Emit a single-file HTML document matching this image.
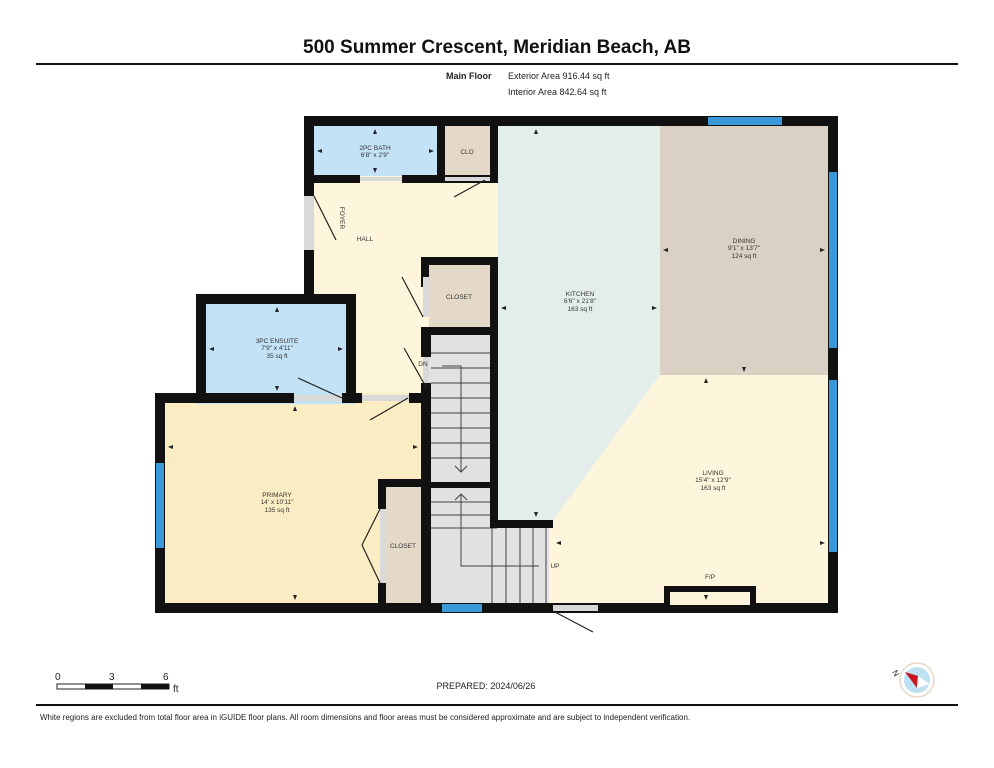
<!DOCTYPE html>
<html><head><meta charset="utf-8"><style>
html,body{margin:0;padding:0;background:#fff;width:994px;height:768px;overflow:hidden}
svg{display:block}
text{font-family:"Liberation Sans",sans-serif}
</style></head><body>
<svg width="994" height="768" viewBox="0 0 994 768" xmlns="http://www.w3.org/2000/svg">
<text x="497" y="53" font-size="19" font-weight="bold" text-anchor="middle" fill="#111">500 Summer Crescent, Meridian Beach, AB</text>
<rect x="36" y="63" width="922" height="2" fill="#111"/>
<text x="446" y="79" font-size="9" font-weight="bold" fill="#222">Main Floor</text>
<text x="508" y="79" font-size="9" fill="#222">Exterior Area 916.44 sq ft</text>
<text x="508" y="95" font-size="9" fill="#222">Interior Area 842.64 sq ft</text>

<rect x="304" y="116" width="534" height="497" fill="#fdf6dc"/>
<rect x="155" y="393" width="275" height="220" fill="#fbedc3"/>
<rect x="196" y="294" width="160" height="110" fill="#c3e2f6"/>
<rect x="314" y="126" width="124" height="50" fill="#c3e2f6"/>
<rect x="445" y="126" width="46" height="50" fill="#e4d9c9"/>
<polygon points="498,126 660,126 660,375 553,520 498,520" fill="#e3eeea"/>
<rect x="660" y="126" width="168" height="249" fill="#dad1c4"/>
<rect x="429" y="265" width="62" height="64" fill="#e4d9c9"/>
<rect x="386" y="487" width="35" height="116" fill="#e4d9c9"/>
<rect x="429" y="335" width="68" height="268" fill="#e1e1e1"/>
<rect x="497" y="528" width="52" height="75" fill="#e1e1e1"/>

<g stroke="#444" stroke-width="1" fill="none">
<line x1="431" y1="353" x2="497" y2="353"/><line x1="431" y1="368" x2="497" y2="368"/>
<line x1="431" y1="383" x2="497" y2="383"/><line x1="431" y1="398" x2="497" y2="398"/>
<line x1="431" y1="413" x2="497" y2="413"/><line x1="431" y1="428" x2="497" y2="428"/>
<line x1="431" y1="443" x2="497" y2="443"/><line x1="431" y1="458" x2="497" y2="458"/>
<line x1="431" y1="502" x2="497" y2="502"/><line x1="431" y1="515" x2="497" y2="515"/>
<line x1="431" y1="528" x2="497" y2="528"/>
<line x1="492" y1="528" x2="492" y2="603"/><line x1="506" y1="528" x2="506" y2="603"/>
<line x1="520" y1="528" x2="520" y2="603"/><line x1="533" y1="528" x2="533" y2="603"/><line x1="546" y1="528" x2="546" y2="603"/>
<polyline points="442,366 461,366 461,472"/><polyline points="455,466 461,472 467,466"/>
<polyline points="539,566 461,566 461,494"/><polyline points="455,500 461,494 467,500"/>
</g>

<g fill="#111">
<rect x="304" y="116" width="534" height="10"/>
<rect x="828" y="116" width="10" height="497"/>
<rect x="155" y="603" width="683" height="10"/>
<rect x="155" y="393" width="10" height="220"/>
<rect x="155" y="393" width="51" height="10"/>
<rect x="196" y="294" width="10" height="109"/>
<rect x="196" y="294" width="160" height="10"/>
<rect x="346" y="294" width="10" height="109"/>
<rect x="304" y="116" width="10" height="178"/>
<rect x="206" y="393" width="88" height="10"/>
<rect x="342" y="393" width="20" height="10"/>
<rect x="409" y="393" width="22" height="10"/>
<rect x="314" y="175" width="46" height="8"/>
<rect x="402" y="175" width="96" height="8"/>
<rect x="437" y="126" width="8" height="57"/>
<rect x="490" y="126" width="8" height="57"/>
<rect x="421" y="257" width="77" height="8"/>
<rect x="421" y="257" width="8" height="30"/>
<rect x="421" y="327" width="77" height="8"/>
<rect x="490" y="257" width="8" height="271"/>
<rect x="421" y="327" width="10" height="30"/>
<rect x="421" y="383" width="10" height="220"/>
<rect x="421" y="482" width="76" height="6"/>
<rect x="378" y="479" width="51" height="8"/>
<rect x="378" y="479" width="8" height="30"/>
<rect x="378" y="583" width="8" height="20"/>
<rect x="490" y="520" width="63" height="8"/>
<rect x="664" y="586" width="92" height="20"/>
</g>
<rect x="670" y="592" width="80" height="13" fill="#fdf6dc"/>
<g fill="#d9d9d9">
<rect x="360" y="177" width="42" height="4"/>
<rect x="304" y="196" width="10" height="54"/>
<rect x="294" y="395" width="48" height="6"/>
<rect x="362" y="395" width="47" height="6"/>
<rect x="423" y="277" width="6" height="40"/>
<rect x="423" y="357" width="6" height="26"/>
<rect x="380" y="509" width="6" height="74"/>
<rect x="445" y="177" width="45" height="4"/>
<rect x="553" y="605" width="45" height="6"/>
</g>
<g fill="#3a9ad9">
<rect x="708" y="117" width="74" height="8"/>
<rect x="829" y="172" width="8" height="176"/>
<rect x="829" y="380" width="8" height="172"/>
<rect x="156" y="463" width="8" height="85"/>
<rect x="442" y="604" width="40" height="8"/>
</g>
<g stroke="#222" stroke-width="1.2" fill="none">
<line x1="314" y1="196" x2="336" y2="240"/>
<line x1="454" y1="197" x2="485" y2="180"/>
<line x1="298" y1="378" x2="342" y2="398"/>
<line x1="408" y1="398" x2="370" y2="420"/>
<line x1="423" y1="317" x2="402" y2="277"/>
<line x1="426" y1="387" x2="404" y2="348"/>
<line x1="380" y1="509" x2="362" y2="545"/><line x1="362" y1="545" x2="380" y2="583"/>
<line x1="553" y1="611" x2="593" y2="632"/>
</g>
<g font-size="6.5" fill="#333" text-anchor="middle">
<text x="375" y="150">2PC BATH</text><text x="375" y="157">6'8" x 2'9"</text>
<text x="467" y="154">CLO</text>
<text x="365" y="241">HALL</text>
<text x="340" y="218" transform="rotate(90 340 218)">FOYER</text>
<text x="459" y="299">CLOSET</text>
<text x="423" y="366">DN</text>
<text x="277" y="343">3PC ENSUITE</text><text x="277" y="350">7'9" x 4'11"</text><text x="277" y="358">35 sq ft</text>
<text x="580" y="296">KITCHEN</text><text x="580" y="303">6'6" x 21'8"</text><text x="580" y="311">163 sq ft</text>
<text x="744" y="243">DINING</text><text x="744" y="250">9'1" x 13'7"</text><text x="744" y="258">124 sq ft</text>
<text x="713" y="475">LIVING</text><text x="713" y="482">15'4" x 12'9"</text><text x="713" y="490">163 sq ft</text>
<text x="277" y="497">PRIMARY</text><text x="277" y="504">14' x 10'11"</text><text x="277" y="512">135 sq ft</text>
<text x="403" y="548">CLOSET</text>
<text x="555" y="568">UP</text>
<text x="710" y="579">F/P</text>
</g>
<g fill="#222">
<path d="M375,129 l-2,5 h4z"/><path d="M375,173 l-2,-5 h4z"/>
<path d="M317,151 l5,-2 v4z"/><path d="M434,151 l-5,-2 v4z"/>
<path d="M277,307 l-2,5 h4z"/><path d="M277,391 l-2,-5 h4z"/>
<path d="M209,349 l5,-2 v4z"/><path d="M343,349 l-5,-2 v4z"/>
<path d="M295,406 l-2,5 h4z"/><path d="M295,600 l-2,-5 h4z"/>
<path d="M168,447 l5,-2 v4z"/><path d="M418,447 l-5,-2 v4z"/>
<path d="M536,129 l-2,5 h4z"/><path d="M536,517 l-2,-5 h4z"/>
<path d="M501,308 l5,-2 v4z"/><path d="M657,308 l-5,-2 v4z"/>
<path d="M706,378 l-2,5 h4z"/><path d="M706,600 l-2,-5 h4z"/>
<path d="M556,543 l5,-2 v4z"/><path d="M825,543 l-5,-2 v4z"/>
<path d="M744,372 l-2,-5 h4z"/><path d="M663,250 l5,-2 v4z"/><path d="M825,250 l-5,-2 v4z"/>
</g>

<g font-size="10" fill="#222">
<text x="55" y="680">0</text><text x="109" y="680">3</text><text x="163" y="680">6</text>
<text x="173" y="692">ft</text>
</g>
<rect x="57" y="684" width="112" height="5" fill="#fff" stroke="#222" stroke-width="1"/>
<rect x="85" y="684" width="28" height="5" fill="#111"/>
<rect x="141" y="684" width="28" height="5" fill="#111"/>
<text x="486" y="689" font-size="9" fill="#222" text-anchor="middle">PREPARED: 2024/06/26</text>
<circle cx="917" cy="680" r="17" fill="#fff" stroke="#e6d7c6" stroke-width="1.5"/>
<circle cx="917" cy="680" r="13" fill="#bde0f3"/>
<polygon points="905,672 918,676 917,688" fill="#c9151e"/>
<polygon points="917,688 918,676 930,684" fill="#fff"/>
<text x="892" y="672" font-size="8" fill="#222" transform="rotate(60 892 672)">N</text>
<rect x="36" y="704" width="922" height="2" fill="#111"/>
<text x="40" y="720" font-size="8" fill="#222">White regions are excluded from total floor area in iGUIDE floor plans. All room dimensions and floor areas must be considered approximate and are subject to independent verification.</text>
</svg>
</body></html>
